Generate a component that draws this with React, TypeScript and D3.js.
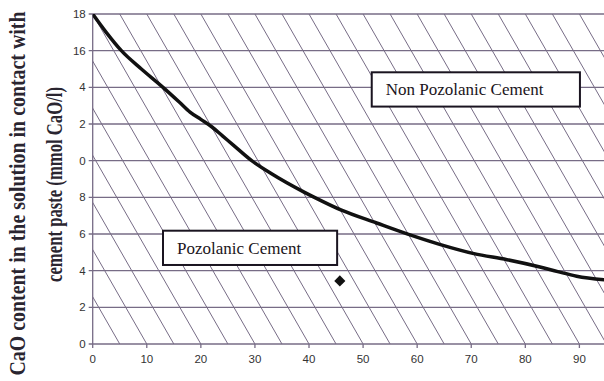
import React from "react";
import * as d3 from "d3";

// ---- data ----
const curveX = [0, 2.5, 5.3, 9, 13, 16, 18, 20, 22, 24, 26, 29.4, 33, 39, 41, 46, 52.5, 58, 64, 70.5, 76.6, 82.7, 86, 89.5, 94.6];
const curveY = [18, 17.0, 16.0, 15.0, 14.0, 13.2, 12.65, 12.25, 11.85, 11.35, 10.85, 10.0, 9.3, 8.3, 8.0, 7.3, 6.6, 6.02, 5.45, 4.93, 4.6, 4.2, 3.95, 3.7, 3.5];
const pointX = [45.7];
const pointY = [3.44];
const yTickValues = [0, 2, 4, 6, 8, 10, 12, 14, 16, 18];
const yTickLabels = ["0", "2", "4", "6", "8", "0", "2", "4", "16", "18"];
const xTickValues = [0, 10, 20, 30, 40, 50, 60, 70, 80, 90];
const xTickLabels = ["0", "10", "20", "30", "40", "50", "60", "70", "80", "90"];
const hatchStarts = d3.range(-7, 20).map((k) => k * 5);
const boxLabels = ["Non Pozolanic Cement", "Pozolanic Cement"];
const boxX0 = [51.6, 13.0];
const boxX1 = [90.1, 45.2];
const boxYTop = [14.82, 6.18];
const boxYBot = [12.95, 4.31];
const titleLines = ["CaO content in the solution in contact with", "cement paste (mmol CaO/l)"];

const W = 604;
const H = 381;
const GRID = "#776c86";

export default function App() {
  const x = d3.scaleLinear().domain([0, 94.55]).range([92.7, 604]);
  const y = d3.scaleLinear().domain([0, 18]).range([344, 14]);
  const line = d3
    .line<number>()
    .x((_, i) => x(curveX[i]))
    .y((d) => y(d))
    .curve(d3.curveMonotoneX);
  const diamond = d3.symbol().type(d3.symbolSquare).size(62)();
  const [x0, x1] = x.range();
  const [yb, yt] = y.range();

  return (
    <svg
      width={W}
      height={H}
      style={{ position: "fixed", left: 0, top: 0, background: "#fff" }}
    >
      <defs>
        <clipPath id="plot">
          <rect x={x0} y={yt} width={x1 - x0} height={yb - yt} />
        </clipPath>
      </defs>
      <rect x={0} y={0} width={W} height={H} fill="#fff" />
      {/* hatch */}
      <g clipPath="url(#plot)" stroke={GRID} strokeWidth={1}>
        {hatchStarts.map((s, i) => (
          <line key={i} x1={x(s)} y1={y(18)} x2={x(s + 35)} y2={y(0)} />
        ))}
      </g>
      {/* horizontal grid */}
      <g stroke={GRID} strokeWidth={1.3}>
        {yTickValues.map((v, i) => (
          <line key={i} x1={x0 - 4} x2={x1} y1={y(v)} y2={y(v)} />
        ))}
        <line x1={x0} x2={x0} y1={yt} y2={yb} />
        {xTickValues.map((v, i) => (
          <line key={"t" + i} x1={x(v)} x2={x(v)} y1={yb} y2={yb + 4} />
        ))}
      </g>
      {/* tick labels */}
      <g fontFamily="'Liberation Sans', Arial, sans-serif" fontSize={11.5} fill="#333">
        {yTickValues.map((v, i) => (
          <text key={i} x={x0 - 7} y={y(v)} dy="0.35em" textAnchor="end">
            {yTickLabels[i]}
          </text>
        ))}
        {xTickValues.map((v, i) => (
          <text key={i} x={x(v)} y={yb + 19} textAnchor="middle">
            {xTickLabels[i]}
          </text>
        ))}
      </g>
      {/* curve */}
      <path d={line(curveY) || ""} fill="none" stroke="#111" strokeWidth={3.5} strokeLinejoin="round" clipPath="url(#plot)" />
      {/* boxes */}
      {boxLabels.map((t, i) => (
        <g key={i}>
          <rect
            x={x(boxX0[i])}
            y={y(boxYTop[i])}
            width={x(boxX1[i]) - x(boxX0[i])}
            height={y(boxYBot[i]) - y(boxYTop[i])}
            fill="#fff"
            stroke="#1a1420"
            strokeWidth={2}
          />
          <text
            x={x(boxX0[i]) + 14}
            y={(y(boxYTop[i]) + y(boxYBot[i])) / 2}
            dy="0.35em"
            fontFamily="'Liberation Serif', 'Times New Roman', serif"
            fontSize={17}
            fill="#1a1420"
          >
            {t}
          </text>
        </g>
      ))}
      {/* point */}
      {pointX.map((px, i) => (
        <path
          key={i}
          d={diamond || ""}
          transform={`translate(${x(px)},${y(pointY[i])}) rotate(45)`}
          fill="#111"
        />
      ))}
      {/* y title */}
      <g fontFamily="'Liberation Serif', 'Times New Roman', serif" fontWeight="bold" fill="#2a2530">
        <text
          transform="translate(25,193.5) rotate(-90) scale(0.995,1.12)"
          textAnchor="middle"
          fontSize={20}
        >
          {titleLines[0]}
        </text>
        <text
          transform="translate(62,184.5) rotate(-90) scale(0.834,1.12)"
          textAnchor="middle"
          fontSize={20}
        >
          {titleLines[1]}
        </text>
      </g>
    </svg>
  );
}
